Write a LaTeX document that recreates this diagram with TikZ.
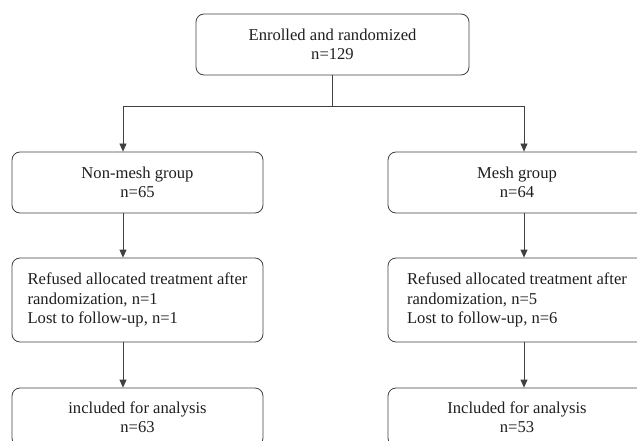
\documentclass[tikz,border=0pt]{standalone}
\usepackage{fontspec}
\setmainfont{Liberation Serif}
\usetikzlibrary{arrows.meta}
\definecolor{linec}{HTML}{404040}
\definecolor{textc}{HTML}{1E1E1E}
\begin{document}
\begin{tikzpicture}[x=1pt,y=-1pt,
  box/.style={draw=linec, line width=0.8pt, rounded corners=8pt, align=center,
    minimum width=251pt, inner sep=0pt, text=textc,
    font=\fontsize{16.6}{19.5}\selectfont},
  rbox/.style={box, minimum width=258pt},
  ln/.style={draw=linec, line width=0.8pt},
  arr/.style={ln, -{Triangle[length=8pt,width=7pt]}}]
\useasboundingbox (0,0) rectangle (637,441);
\clip (0,0) rectangle (637,441);
% top
\node[box, minimum width=273pt, minimum height=61pt] (top) at (332.5,44.5) {Enrolled and randomized\\n=129};
% left column
\node[box, minimum height=61pt] (nm) at (137.5,182.5) {Non-mesh group\\n=65};
\node[box, align=left, minimum height=84pt] (nmr) at (137.5,300) {Refused allocated treatment after\\randomization, n=1\\Lost to follow-up, n=1};
\node[box, minimum height=58pt] (nma) at (137.5,417) {included for analysis\\n=63};
% right column
\node[rbox, minimum height=61pt] (m) at (517,182.5) {Mesh group\\n=64};
\node[rbox, align=left, minimum height=84pt] (mr) at (517,300) {Refused allocated treatment after\\randomization, n=5\\Lost to follow-up, n=6};
\node[rbox, minimum height=58pt] (ma) at (517,417) {Included for analysis\\n=53};
% connector guides
\coordinate (j) at (332.5,106);
\coordinate (la) at (123,106);
\coordinate (ra) at (524,106);
\draw[ln] (top.south) -- (j);
\draw[arr] (j) -| (la |- nm.north);
\draw[arr] (j) -| (ra |- m.north);
\draw[arr] (la |- nm.south) -- (la |- nmr.north);
\draw[arr] (la |- nmr.south) -- (la |- nma.north);
\draw[arr] (ra |- m.south) -- (ra |- mr.north);
\draw[arr] (ra |- mr.south) -- (ra |- ma.north);
\end{tikzpicture}
\end{document}
